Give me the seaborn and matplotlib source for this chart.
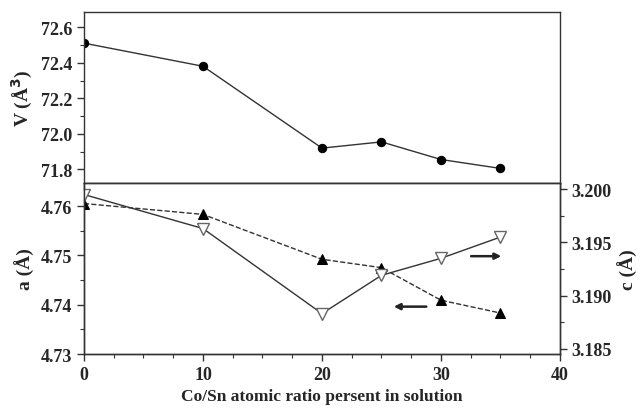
import numpy as np
import pandas as pd
import seaborn as sns
import matplotlib.pyplot as plt
from matplotlib.ticker import MultipleLocator

# Co/Sn ratio in solution
ratio = [0, 10, 20, 25, 30, 35]
# unit cell volume (A^3)
volume = [72.51, 72.38, 71.92, 71.955, 71.856, 71.806]
# lattice parameters
a_param = [4.7605, 4.7583, 4.7492, 4.7475, 4.7409, 4.7383]
c_param = [3.1995, 3.1963, 3.1883, 3.1919, 3.1935, 3.1955]

df = pd.DataFrame({'ratio': ratio, 'V': volume, 'a': a_param, 'c': c_param})

sns.set_style("ticks")
plt.rcParams['font.family'] = ['Liberation Serif', 'DejaVu Serif']
plt.rcParams['font.weight'] = 'bold'
plt.rcParams['axes.labelweight'] = 'bold'
plt.rcParams['axes.linewidth'] = 1.0
plt.rcParams['axes.edgecolor'] = '#333333'

fig = plt.figure(figsize=(6.43, 4.14), dpi=100)
# panels share the border line at y ~ 184 px
ax_top = fig.add_axes([0.1306, 0.556, 0.7403, 0.4126])
ax_bot = fig.add_axes([0.1306, 0.1425, 0.7403, 0.4135])
ax_c = ax_bot.twinx()

line_col = '#333333'

# top panel: volume
sns.lineplot(data=df, x='ratio', y='V', ax=ax_top, color=line_col, lw=1.0,
             marker='o', markersize=6, markerfacecolor='black',
             markeredgecolor='black')
ax_top.set_xlim(0, 40)
ax_top.set_ylim(71.725, 72.685)
ax_top.yaxis.set_major_locator(MultipleLocator(0.2))
ax_top.yaxis.set_minor_locator(MultipleLocator(0.1))
ax_top.xaxis.set_major_locator(MultipleLocator(10))
ax_top.xaxis.set_minor_locator(MultipleLocator(2.5))
ax_top.tick_params(axis='x', which='both', labelbottom=False)
ax_top.set_xlabel('')
ax_top.set_ylabel('V (Å$^\\mathbf{3}$)', fontsize=14)
ax_top.yaxis.set_major_formatter(plt.FuncFormatter(lambda v, p: f'{v:.1f}'))

# bottom panel: a (dashed, filled triangles) and c (solid, open triangles)
sns.lineplot(data=df, x='ratio', y='a', ax=ax_bot, color=line_col, lw=1.0,
             linestyle='--', marker='^', markersize=6.5,
             markerfacecolor='black', markeredgecolor='black')
sns.lineplot(data=df, x='ratio', y='c', ax=ax_c, color=line_col, lw=1.0,
             marker='v', markersize=8, markerfacecolor='white',
             markeredgecolor='#666666', markeredgewidth=1.0)

ax_bot.set_xlim(0, 40)
ax_bot.set_ylim(4.73, 4.7647)
ax_c.set_ylim(3.1845, 3.2006)
ax_bot.xaxis.set_major_locator(MultipleLocator(10))
ax_bot.xaxis.set_minor_locator(MultipleLocator(2.5))
ax_bot.yaxis.set_major_locator(MultipleLocator(0.01))
ax_bot.yaxis.set_minor_locator(MultipleLocator(0.005))
ax_c.yaxis.set_major_locator(MultipleLocator(0.005))
ax_c.yaxis.set_minor_locator(MultipleLocator(0.0025))
ax_bot.yaxis.set_major_formatter(plt.FuncFormatter(lambda v, p: f'{v:.2f}'))
ax_c.yaxis.set_major_formatter(plt.FuncFormatter(lambda v, p: f'{v:.3f}'))

ax_bot.set_xlabel('Co/Sn atomic ratio persent in solution', fontsize=12.5)
ax_bot.set_ylabel('a (Å)', fontsize=14)
ax_c.set_ylabel('c (Å)', fontsize=14)

# arrows pointing to each series' axis
ax_c.annotate('', xy=(35.3, 3.1937), xytext=(32.3, 3.1937),
              arrowprops=dict(arrowstyle='-|>', color='#222222', lw=1.8,
                              mutation_scale=9))
ax_bot.annotate('', xy=(25.8, 4.7396), xytext=(29.0, 4.7396),
                arrowprops=dict(arrowstyle='-|>', color='#222222', lw=1.8,
                                mutation_scale=9))

for ax in (ax_top, ax_bot, ax_c):
    ax.tick_params(which='major', length=5, width=1.0, labelsize=13,
                   color='#333333')
    ax.tick_params(which='minor', length=3, width=0.8, color='#333333')
    for lab in ax.get_xticklabels() + ax.get_yticklabels():
        lab.set_fontweight('bold')
    for s in ax.spines.values():
        s.set_visible(True)

ax_top.tick_params(axis='y', which='both', right=False)
ax_bot.tick_params(axis='y', which='both', right=False)
ax_top.tick_params(axis='x', which='both', top=False)
ax_bot.tick_params(axis='x', which='both', top=False)

fig.savefig('out.png', dpi=100)
